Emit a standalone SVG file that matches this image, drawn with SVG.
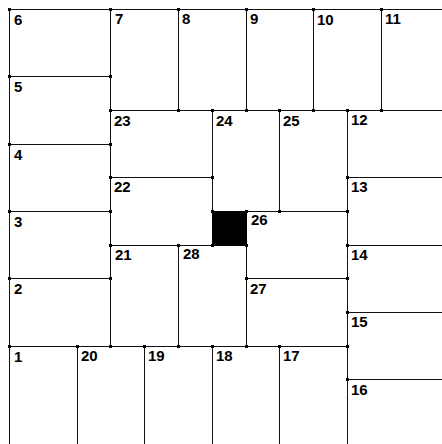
<svg xmlns="http://www.w3.org/2000/svg" width="442" height="444" viewBox="0 0 442 444">
<style>
.c{stroke:#111;stroke-width:1;fill:none;shape-rendering:crispEdges}
.d{fill:#000;shape-rendering:crispEdges}
.t{font-family:"Liberation Sans",Arial,sans-serif;font-size:15px;font-weight:bold;fill:#000}
</style>
<rect width="442" height="444" fill="#fff"/>
<g id="connectors" class="c">
<path d="M9.5 9.5H442M9.5 9.5V444M9.5 76.5H110.5M9.5 144.5H110.5M9.5 211.5H110.5M9.5 278.5H110.5M9.5 346.5H347.5M110.5 9.5V346.5M110.5 110.5H442"/>
<path d="M178.5 9.5V110.5M246.5 9.5V110.5M313.5 9.5V110.5M381.5 9.5V110.5"/>
<path d="M212.5 110.5V211.5M279.5 110.5V211.5M110.5 177.5H212.5M110.5 245.5H212.5M246.5 211.5H347.5"/>
<path d="M347.5 110.5V444M347.5 177.5H442M347.5 245.5H442M347.5 312.5H442M347.5 379.5H442M246.5 278.5H347.5M246.5 245.5V346.5M178.5 245.5V346.5"/>
<path d="M77.5 346.5V444M144.5 346.5V444M212.5 346.5V444M279.5 346.5V444"/>
</g>
<g id="block">
<rect x="212" y="211" width="35" height="35" fill="#000"/>
</g>
<g id="junctions" class="d">
<rect x="109" y="75" width="3" height="3"/>
<rect x="109" y="143" width="3" height="3"/>
<rect x="109" y="210" width="3" height="3"/>
<rect x="109" y="277" width="3" height="3"/>
<rect x="109" y="345" width="3" height="3"/>
<rect x="177" y="109" width="3" height="3"/>
<rect x="245" y="109" width="3" height="3"/>
<rect x="312" y="109" width="3" height="3"/>
<rect x="380" y="109" width="3" height="3"/>
<rect x="211" y="176" width="3" height="3"/>
<rect x="211" y="210" width="3" height="3"/>
<rect x="278" y="210" width="3" height="3"/>
<rect x="346" y="210" width="3" height="3"/>
<rect x="211" y="244" width="3" height="3"/>
<rect x="245" y="244" width="3" height="3"/>
<rect x="346" y="277" width="3" height="3"/>
<rect x="177" y="345" width="3" height="3"/>
<rect x="245" y="345" width="3" height="3"/>
<rect x="346" y="345" width="3" height="3"/>
</g>
<g id="n1"><rect class="d" x="8" y="345" width="3" height="3"/><text class="t" x="14" y="362">1</text></g>
<g id="n2"><rect class="d" x="8" y="277" width="3" height="3"/><text class="t" x="14" y="294">2</text></g>
<g id="n3"><rect class="d" x="8" y="210" width="3" height="3"/><text class="t" x="14" y="227">3</text></g>
<g id="n4"><rect class="d" x="8" y="143" width="3" height="3"/><text class="t" x="14" y="160">4</text></g>
<g id="n5"><rect class="d" x="8" y="75" width="3" height="3"/><text class="t" x="14" y="92">5</text></g>
<g id="n6"><rect class="d" x="8" y="8" width="3" height="3"/><text class="t" x="14" y="25">6</text></g>
<g id="n7"><rect class="d" x="109" y="8" width="3" height="3"/><text class="t" x="115" y="24">7</text></g>
<g id="n8"><rect class="d" x="177" y="8" width="3" height="3"/><text class="t" x="182" y="24">8</text></g>
<g id="n9"><rect class="d" x="245" y="8" width="3" height="3"/><text class="t" x="250" y="24">9</text></g>
<g id="n10"><rect class="d" x="312" y="8" width="3" height="3"/><text class="t" x="317" y="25">10</text></g>
<g id="n11"><rect class="d" x="380" y="8" width="3" height="3"/><text class="t" x="385" y="24">11</text></g>
<g id="n12"><rect class="d" x="346" y="109" width="3" height="3"/><text class="t" x="351" y="125">12</text></g>
<g id="n13"><rect class="d" x="346" y="176" width="3" height="3"/><text class="t" x="351" y="192">13</text></g>
<g id="n14"><rect class="d" x="346" y="244" width="3" height="3"/><text class="t" x="351" y="260">14</text></g>
<g id="n15"><rect class="d" x="346" y="311" width="3" height="3"/><text class="t" x="351" y="327">15</text></g>
<g id="n16"><rect class="d" x="346" y="378" width="3" height="3"/><text class="t" x="351" y="395">16</text></g>
<g id="n17"><rect class="d" x="278" y="345" width="3" height="3"/><text class="t" x="283" y="361">17</text></g>
<g id="n18"><rect class="d" x="211" y="345" width="3" height="3"/><text class="t" x="216" y="361">18</text></g>
<g id="n19"><rect class="d" x="143" y="345" width="3" height="3"/><text class="t" x="148" y="361">19</text></g>
<g id="n20"><rect class="d" x="76" y="345" width="3" height="3"/><text class="t" x="81" y="361">20</text></g>
<g id="n21"><rect class="d" x="109" y="244" width="3" height="3"/><text class="t" x="115" y="260">21</text></g>
<g id="n22"><rect class="d" x="109" y="176" width="3" height="3"/><text class="t" x="114" y="192">22</text></g>
<g id="n23"><rect class="d" x="109" y="109" width="3" height="3"/><text class="t" x="114" y="126">23</text></g>
<g id="n24"><rect class="d" x="211" y="109" width="3" height="3"/><text class="t" x="216" y="126">24</text></g>
<g id="n25"><rect class="d" x="278" y="109" width="3" height="3"/><text class="t" x="283" y="126">25</text></g>
<g id="n26"><rect class="d" x="245" y="210" width="3" height="3"/><text class="t" x="251" y="225">26</text></g>
<g id="n27"><rect class="d" x="245" y="277" width="3" height="3"/><text class="t" x="250" y="294">27</text></g>
<g id="n28"><rect class="d" x="177" y="244" width="3" height="3"/><text class="t" x="183" y="259">28</text></g>
</svg>
